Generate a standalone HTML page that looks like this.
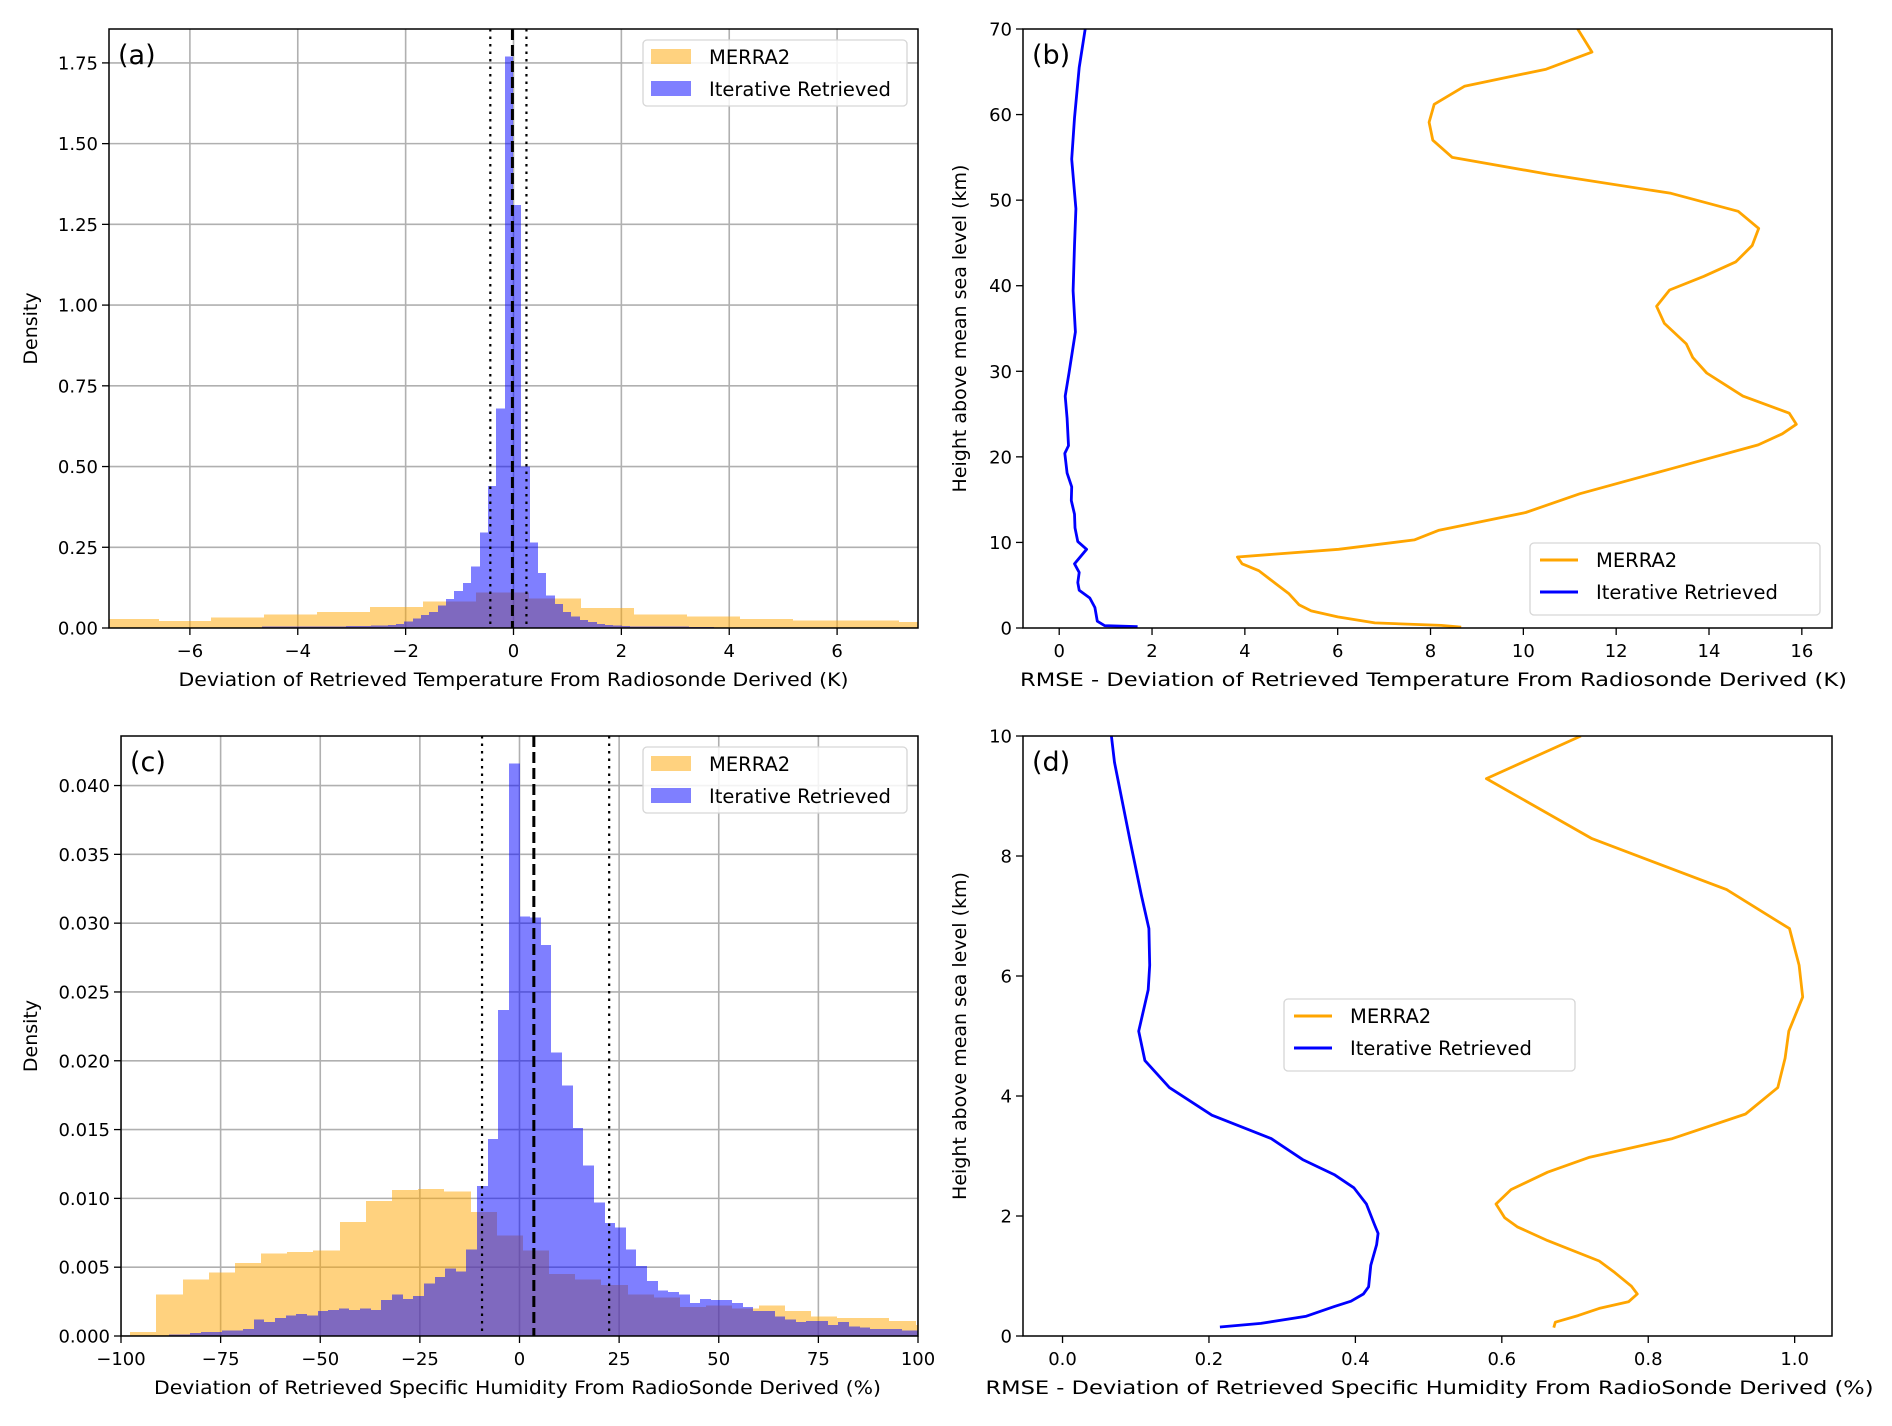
<!DOCTYPE html>
<html><head><meta charset="utf-8"><style>
html,body{margin:0;padding:0;background:#fff;}
svg{display:block;font-family:"DejaVu Sans","Liberation Sans",sans-serif;}
</style></head><body>
<svg id="fig" width="1892" height="1426" viewBox="0 0 1892 1426" xmlns="http://www.w3.org/2000/svg"></svg>
<script>
// ---------- Panel (a) data ----------
const aMerraStart = -7.56, aMerraWidth = 0.98;
const aMerraVals = [0.028,0.022,0.032,0.042,0.05,0.065,0.082,0.11,0.092,0.062,0.042,0.036,0.028,0.024,0.024,0.018];
const aIterStart = -4.66, aIterWidth = 0.155;
const aIterVals = [0.004,0.004,0.005,0.005,0.005,0.005,0.005,0.005,0.005,0.005,0.006,0.006,0.006,0.007,0.008,0.01,0.012,0.02,0.03,0.04,0.05,0.07,0.09,0.115,0.14,0.19,0.295,0.44,0.68,1.77,1.31,0.5,0.265,0.17,0.1,0.075,0.05,0.035,0.025,0.018,0.012,0.01,0.008,0.006,0.005,0.004,0.004,0.004,0.004,0.004,0.004,0.003,0.003,0.003,0.002,0.002,0.002,0.002,0.002,0.002];
const aXTicks = [-6,-4,-2,0,2,4,6];
const aYTicks = [0,0.25,0.5,0.75,1.0,1.25,1.5,1.75];
const aYTickLabels = ["0.00","0.25","0.50","0.75","1.00","1.25","1.50","1.75"];
const aVLines = [-0.43, -0.02, 0.24];
// ---------- Panel (c) data ----------
const cMerraStart = -97.7, cMerraWidth = 6.57;
const cMerraVals = [0.0003,0.003,0.0041,0.0046,0.0053,0.006,0.0061,0.0062,0.0083,0.0098,0.0106,0.0107,0.0105,0.009,0.0073,0.0062,0.0045,0.0041,0.0037,0.003,0.0028,0.0021,0.0022,0.002,0.0022,0.0018,0.0014,0.0013,0.0013,0.0011,0.0008];
const cIterStart = -98.67, cIterWidth = 2.667;
const cIterVals = [0,0,0,0,0.0001,0.0001,0.0002,0.0003,0.0003,0.0004,0.0004,0.0005,0.0012,0.001,0.0013,0.0015,0.0016,0.0015,0.0018,0.0019,0.002,0.0019,0.002,0.0019,0.0026,0.003,0.0027,0.0029,0.0038,0.0043,0.0049,0.0047,0.0063,0.0109,0.0143,0.0237,0.0416,0.0305,0.0304,0.0284,0.0206,0.0182,0.0151,0.0124,0.0097,0.0082,0.0079,0.0063,0.0051,0.004,0.0033,0.0032,0.003,0.0024,0.0027,0.0026,0.0026,0.0024,0.0021,0.0018,0.0018,0.0014,0.0012,0.001,0.0011,0.0011,0.0008,0.001,0.0007,0.0006,0.0005,0.0005,0.0005,0.0004,0.0004];
const cXTicks = [-100,-75,-50,-25,0,25,50,75,100];
const cYTicks = [0,0.005,0.01,0.015,0.02,0.025,0.03,0.035,0.04];
const cYTickLabels = ["0.000","0.005","0.010","0.015","0.020","0.025","0.030","0.035","0.040"];
const cVLines = [-9.4, 3.6, 22.5];
// ---------- Panel (b) data ----------
const bMerraX = [8.66,8.23,6.8,6.0,5.43,5.17,4.95,4.66,4.3,3.94,3.84,6.02,7.65,8.17,10.05,11.22,13.18,15.06,15.58,15.88,15.73,14.73,13.95,13.65,13.51,13.04,12.87,13.15,13.89,14.58,14.93,15.07,14.63,13.18,10.57,8.47,8.05,7.97,8.08,8.73,10.49,11.48,11.17];
const bMerraY = [0.1,0.3,0.6,1.3,2.0,2.7,4.0,5.2,6.7,7.5,8.3,9.2,10.3,11.4,13.5,15.7,18.6,21.4,22.7,23.8,25.1,27.1,29.8,31.6,33.2,35.6,37.6,39.5,41.1,42.8,44.7,46.7,48.7,50.8,53.0,55.0,57.0,59.1,61.2,63.3,65.3,67.3,70];
const bIterX = [1.69,0.98,0.82,0.77,0.66,0.43,0.4,0.43,0.33,0.59,0.4,0.34,0.33,0.26,0.27,0.17,0.12,0.2,0.17,0.13,0.21,0.35,0.3,0.33,0.36,0.27,0.33,0.43,0.56];
const bIterY = [0.15,0.27,0.8,2.4,3.5,4.4,5.3,6.5,7.5,9.2,10.1,11.7,13.3,14.9,16.5,18.1,20.4,21.3,24.5,27.1,29.8,34.6,39.4,44.7,49.0,54.8,59.6,65.5,70];
const bXTicks = [0,2,4,6,8,10,12,14,16];
const bYTicks = [0,10,20,30,40,50,60,70];
// ---------- Panel (d) data ----------
const dMerraX = [0.671,0.673,0.704,0.733,0.773,0.785,0.777,0.754,0.733,0.6625,0.621,0.604,0.592,0.6125,0.6625,0.72,0.833,0.933,0.977,0.987,0.992,1.011,1.006,0.993,0.907,0.723,0.579,0.708];
const dMerraY = [0.14,0.23,0.34,0.46,0.57,0.70,0.83,1.06,1.25,1.59,1.82,1.97,2.2,2.44,2.73,2.98,3.29,3.70,4.14,4.63,5.08,5.65,6.18,6.79,7.44,8.29,9.29,10];
const dIterX = [0.215,0.271,0.333,0.371,0.394,0.411,0.418,0.421,0.429,0.431,0.426,0.415,0.398,0.371,0.328,0.285,0.204,0.146,0.1125,0.104,0.117,0.119,0.118,0.1075,0.092,0.071,0.0667];
const dIterY = [0.15,0.21,0.33,0.49,0.58,0.70,0.82,1.18,1.52,1.71,1.86,2.2,2.47,2.69,2.94,3.29,3.68,4.14,4.59,5.08,5.77,6.18,6.79,7.36,8.27,9.56,10];
const dXTicks = [0,0.2,0.4,0.6,0.8,1.0];
const dXTickLabels = ["0.0","0.2","0.4","0.6","0.8","1.0"];
const dYTicks = [0,2,4,6,8,10];

const NS = "http://www.w3.org/2000/svg";
const svg = document.getElementById('fig');
function mk(tag, attrs, parent){
  const e = document.createElementNS(NS, tag);
  for (const k in attrs) e.setAttribute(k, attrs[k]);
  (parent||svg).appendChild(e);
  return e;
}
function fmtMinus(v){ return String(v).replace('-', '\u2212'); }

function panel(cfg){
  const g = mk('g', {});
  
  
  const L=cfg.L,R=cfg.R,T=cfg.T,B=cfg.B;
  const sx = v => L + (v-cfg.x0)/(cfg.x1-cfg.x0)*(R-L);
  const sy = v => B - (v-cfg.y0)/(cfg.y1-cfg.y0)*(B-T);
  const clipId = 'clip-'+cfg.name;
  const defs = mk('defs', {}, g);
  const cp = mk('clipPath', {id:clipId}, defs);
  mk('rect', {x:L,y:T,width:R-L,height:B-T}, cp);
  const plot = mk('g', {'clip-path':'url(#'+clipId+')'}, g);
  if (cfg.grid){
    cfg.xTicks.forEach(t=>{
      const l = mk('line',{x1:sx(t),x2:sx(t),y1:T,y2:B,stroke:'#b0b0b0','stroke-width':1.6}, plot);
      
      
    });
    cfg.yTicks.forEach(t=>{
      const l = mk('line',{x1:L,x2:R,y1:sy(t),y2:sy(t),stroke:'#b0b0b0','stroke-width':1.6}, plot);
      
      
    });
  }
  cfg.draw(plot, sx, sy);
  const fr = mk('rect',{x:L,y:T,width:R-L,height:B-T,fill:'none',stroke:'#000','stroke-width':1.5}, g);
  
  
  cfg.xTicks.forEach((t,i)=>{
    mk('line',{x1:sx(t),x2:sx(t),y1:B,y2:B+7,stroke:'#000','stroke-width':1.3}, g);
    const tx = mk('text',{x:sx(t),y:B+29,'text-anchor':'middle','font-size':18,fill:'#000'}, g);
    tx.textContent = cfg.xLabels ? cfg.xLabels[i] : fmtMinus(t);
    
    
  });
  cfg.yTicks.forEach((t,i)=>{
    mk('line',{x1:L-7,x2:L,y1:sy(t),y2:sy(t),stroke:'#000','stroke-width':1.3}, g);
    const tx = mk('text',{x:L-11,y:sy(t)+6.5,'text-anchor':'end','font-size':18,fill:'#000'}, g);
    tx.textContent = cfg.yLabels ? cfg.yLabels[i] : fmtMinus(t);
    
    
  });
  const xl = mk('text',{x:(L+R)/2+cfg.xlOff,y:B+58,'text-anchor':'middle','font-size':19,fill:'#000',textLength:cfg.xlLen,lengthAdjust:'spacingAndGlyphs'}, g);
  xl.textContent = cfg.xTitle;
  
  
  const yc=(T+B)/2;
  const yl = mk('text',{x:cfg.ylX,y:yc,'text-anchor':'middle','font-size':19,fill:'#000',transform:'rotate(-90 '+cfg.ylX+' '+yc+')'}, g);
  yl.textContent = cfg.yTitle;
  
  
  const pl = mk('text',{x:L+9,y:T+35,'font-size':27,fill:'#000'}, g);
  pl.textContent = cfg.tag;
  
  
  const lg = mk('g',{}, g);
  
  
  const [lx,ly,lw,lh] = cfg.legend;
  mk('rect',{x:lx,y:ly,width:lw,height:lh,rx:4,fill:'#fff','fill-opacity':0.85,stroke:'#d6d6d6','stroke-width':1.3}, lg);
  const entries=[['MERRA2','#ffa500'],['Iterative Retrieved','#0000ff']];
  entries.forEach((e,i)=>{
    const cy = ly + 17 + i*32;
    const eg = mk('g',{}, lg);
    
    
    if (cfg.legendPatch) mk('rect',{x:lx+8,y:cy-8,width:40,height:15,fill:e[1],'fill-opacity':0.5}, eg);
    else mk('line',{x1:lx+10,x2:lx+48,y1:cy,y2:cy,stroke:e[1],'stroke-width':3}, eg);
    const t = mk('text',{x:lx+66,y:cy+7,'font-size':19.5,fill:'#000'}, eg);
    t.textContent = e[0];
  });
  return {sx,sy};
}

function hist(parent, sx, sy, start, width, vals, color, name){
  vals.forEach((v,i)=>{
    if (v<=0) return;
    const x0 = start + i*width, x1 = x0 + width;
    const r = mk('rect',{x:Math.round(sx(x0)),y:sy(v),width:Math.round(sx(x1))-Math.round(sx(x0)),height:sy(0)-sy(v),fill:color,'fill-opacity':0.5,'shape-rendering':'crispEdges'}, parent);
    
    
  });
}
function vlines(parent, sx, T, B, xs){
  xs.forEach((x,i)=>{
    const l = mk('line',{x1:sx(x),x2:sx(x),y1:T,y2:B,stroke:'#000','stroke-width':i===1?3:2.2,'stroke-dasharray':i===1?'11,5':'2.5,5'}, parent);
    
    
  });
}
function line(parent, sx, sy, xs, ys, color, name){
  const d = xs.map((x,i)=>(i?'L':'M')+sx(x).toFixed(1)+' '+sy(ys[i]).toFixed(1)).join(' ');
  const p = mk('path',{d:d,fill:'none',stroke:color,'stroke-width':2.8,'stroke-linejoin':'round'}, parent);
  
  
}

panel({name:'panel-a', L:109,R:918,T:29,B:628, x0:-7.5,x1:7.5,y0:0,y1:1.855, grid:true,
  xTicks:aXTicks, yTicks:aYTicks, yLabels:aYTickLabels,
  xTitle:'Deviation of Retrieved Temperature From Radiosonde Derived (K)', xlLen:670, xlOff:0,
  yTitle:'Density', ylX:37, tag:'(a)', legend:[643,40,264,66], legendPatch:true,
  draw:(p,sx,sy)=>{
    hist(p,sx,sy,aMerraStart,aMerraWidth,aMerraVals,'#ffa500','merra2');
    hist(p,sx,sy,aIterStart,aIterWidth,aIterVals,'#0000ff','iterative');
    vlines(p,sx,29,628,aVLines);
  }});
panel({name:'panel-c', L:121,R:918,T:736,B:1336, x0:-100,x1:100,y0:0,y1:0.0436, grid:true,
  xTicks:cXTicks, yTicks:cYTicks, yLabels:cYTickLabels,
  xTitle:'Deviation of Retrieved Specific Humidity From RadioSonde Derived (%)', xlLen:727, xlOff:-2,
  yTitle:'Density', ylX:37, tag:'(c)', legend:[643,747,264,66], legendPatch:true,
  draw:(p,sx,sy)=>{
    hist(p,sx,sy,cMerraStart,cMerraWidth,cMerraVals,'#ffa500','merra2');
    hist(p,sx,sy,cIterStart,cIterWidth,cIterVals,'#0000ff','iterative');
    vlines(p,sx,736,1336,cVLines);
  }});
panel({name:'panel-b', L:1023,R:1832,T:29,B:628, x0:-0.78,x1:16.65,y0:0,y1:70, grid:false,
  xTicks:bXTicks, yTicks:bYTicks,
  xTitle:'RMSE - Deviation of Retrieved Temperature From Radiosonde Derived (K)', xlLen:827, xlOff:6,
  yTitle:'Height above mean sea level (km)', ylX:966, tag:'(b)', legend:[1530,543,290,72], legendPatch:false,
  draw:(p,sx,sy)=>{
    line(p,sx,sy,bMerraX,bMerraY,'#ffa500','merra2-line');
    line(p,sx,sy,bIterX,bIterY,'#0000ff','iterative-line');
  }});
panel({name:'panel-d', L:1023,R:1832,T:736,B:1336, x0:-0.054,x1:1.051,y0:0,y1:10, grid:false,
  xTicks:dXTicks, yTicks:dYTicks, xLabels:dXTickLabels,
  xTitle:'RMSE - Deviation of Retrieved Specific Humidity From RadioSonde Derived (%)', xlLen:888, xlOff:2,
  yTitle:'Height above mean sea level (km)', ylX:966, tag:'(d)', legend:[1284,999,291,72], legendPatch:false,
  draw:(p,sx,sy)=>{
    line(p,sx,sy,dMerraX,dMerraY,'#ffa500','merra2-line');
    line(p,sx,sy,dIterX,dIterY,'#0000ff','iterative-line');
  }});
</script>
</body></html>
